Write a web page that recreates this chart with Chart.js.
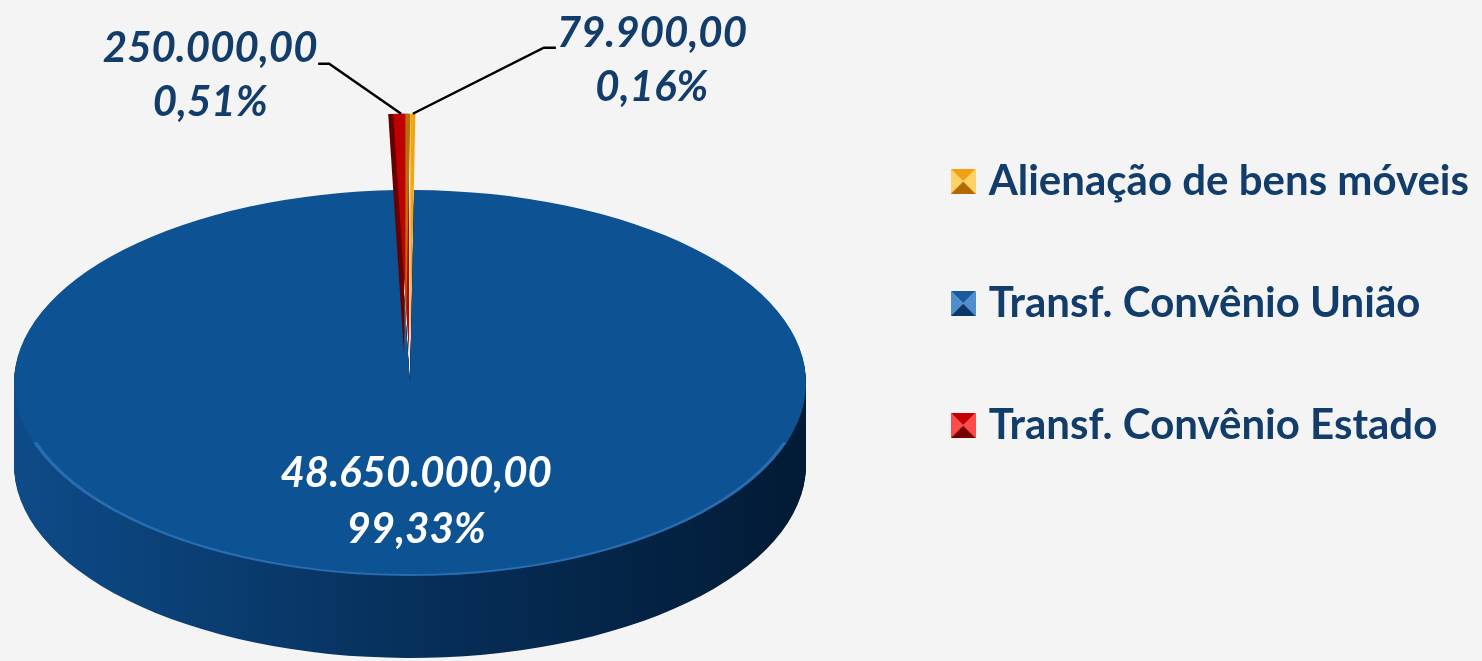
<!DOCTYPE html>
<html>
<head>
<meta charset="utf-8">
<script src="https://cdn.jsdelivr.net/npm/chart.js@4.4.1/dist/chart.umd.min.js"></script>
<style>
  html, body { margin: 0; padding: 0; background: #f4f4f4; }
  #wrap { position: relative; width: 1482px; height: 661px; }
</style>
</head>
<body>
<div id="wrap"><canvas id="receitas-chart"></canvas></div>
<script>
// data
const categories = ["Alienação de bens móveis", "Transf. Convênio União", "Transf. Convênio Estado"];
const amounts = [79900, 48650000, 250000];

// styling
const sliceColors = ["#f2a413", "#0d5293", "#c00000"];
const faceShadows = ["#b87000", null, "#640000"];
const iconColors = [
  ["#ffd166", "#f0a010", "#b06a00"],
  ["#4f8fd0", "#1a5a9c", "#0b3868"],
  ["#ff4a4a", "#c40000", "#7a0000"],
];
const exploded = [true, false, true];

const View = {
  center: { x: 410, y: 383 },
  radiusX: 396,
  radiusY: 193,
  depth: 82,
  lift: 28,       // how far (screen px) exploded slices move out
  stretch: 1.25,  // exploded slices drawn a bit longer, as in the 3D view
  navy: "#123d6b",
  font: "Lato, 'Open Sans', sans-serif",
};

// leader lines / label placement (pixels from the slice tip)
const LabelLayout = [
  { elbow: [131, -66], tail: 12, text: [108, -14] },
  null,
  { elbow: [-72, -50], tail: -11, text: [-119, -15] },
];

const total = amounts.reduce((a, b) => a + b, 0);

const fmtMoney = (v) => {
  const [int, dec] = v.toFixed(2).split(".");
  return int.replace(/\B(?=(\d{3})+(?!\d))/g, ".") + "," + dec;
};
const fmtPct = (f) => (f * 100).toFixed(2).replace(".", ",") + "%";

// small bevelled square for the legend
const bevelIcon = ([light, base, dark]) => {
  const s = 25, m = s / 2;
  const c = document.createElement("canvas");
  c.width = s;
  c.height = s;
  const g = c.getContext("2d");
  const tri = (pts, color) => {
    g.beginPath();
    g.moveTo(pts[0][0], pts[0][1]);
    g.lineTo(pts[1][0], pts[1][1]);
    g.lineTo(pts[2][0], pts[2][1]);
    g.closePath();
    g.fillStyle = color;
    g.fill();
  };
  tri([[0, 0], [s, 0], [m, m]], base);
  tri([[0, 0], [0, s], [m, m]], light);
  tri([[s, 0], [s, s], [m, m]], light);
  tri([[0, s], [s, s], [m, m]], dark);
  return c;
};
const icons = iconColors.map(bevelIcon);

const scales = (el) => ({ kx: View.radiusX / el.outerRadius, ky: View.radiusY / el.outerRadius });

const project = (ctx, el, dy) => {
  const { kx, ky } = scales(el);
  ctx.translate(View.center.x, View.center.y + dy);
  ctx.scale(kx, ky);
  ctx.translate(-el.x, -el.y);
};

// move an exploded slice outwards (in chart units) and stretch it
const explodeTransform = (ctx, el) => {
  const { ky } = scales(el);
  const mid = (el.startAngle + el.endAngle) / 2;
  const d = View.lift / ky;
  ctx.translate(Math.cos(mid) * d, Math.sin(mid) * d);
  ctx.translate(el.x, el.y);
  ctx.scale(View.stretch, View.stretch);
  ctx.translate(-el.x, -el.y);
};

const pie3d = {
  id: "pie3d",
  beforeDatasetsDraw(chart) {
    const ctx = chart.ctx;
    const big = chart.getDatasetMeta(0).data[1];
    const r = big.outerRadius;
    // side wall of the big slice
    for (let t = View.depth; t > 0; t--) {
      ctx.save();
      project(ctx, big, t);
      const grad = ctx.createLinearGradient(big.x - r, 0, big.x + r, 0);
      grad.addColorStop(0, "#0e4b88");
      grad.addColorStop(0.55, "#062d57");
      grad.addColorStop(1, "#021b35");
      ctx.fillStyle = grad;
      ctx.beginPath();
      ctx.moveTo(big.x, big.y);
      ctx.arc(big.x, big.y, r, big.startAngle, big.endAngle);
      ctx.closePath();
      ctx.fill();
      ctx.restore();
    }
    ctx.save();
    project(ctx, big, 0);
  },
  beforeDatasetDraw(chart, args) {
    const ctx = chart.ctx;
    const arcs = args.meta.data;
    [1, 2, 0].forEach((i) => {
      const el = arcs[i];
      ctx.save();
      if (exploded[i]) {
        explodeTransform(ctx, el);
        if (faceShadows[i]) {
          // the dark cut face seen on the left of the slice
          const { kx } = scales(el);
          ctx.save();
          ctx.translate(-4 / kx, 0);
          ctx.beginPath();
          ctx.moveTo(el.x, el.y);
          ctx.arc(el.x, el.y, el.outerRadius, el.startAngle, el.endAngle);
          ctx.closePath();
          ctx.fillStyle = faceShadows[i];
          ctx.fill();
          ctx.restore();
        }
      }
      el.draw(ctx);
      ctx.restore();
    });
    return false;
  },
  afterDatasetsDraw(chart) {
    const ctx = chart.ctx;
    const big = chart.getDatasetMeta(0).data[1];
    // soft highlight on the front rim of the top face
    ctx.beginPath();
    ctx.arc(big.x, big.y, big.outerRadius - 1.5, 0.1 * Math.PI, 0.9 * Math.PI);
    ctx.strokeStyle = "rgba(70, 135, 205, 0.5)";
    ctx.lineWidth = 3;
    ctx.stroke();
    ctx.restore();
  },
  afterDraw(chart) {
    const ctx = chart.ctx;
    const arcs = chart.getDatasetMeta(0).data;
    const ref = arcs[1];
    const { kx, ky } = scales(ref);
    const toScreen = (px, py) => ({
      x: View.center.x + (px - ref.x) * kx,
      y: View.center.y + (py - ref.y) * ky,
    });
    ctx.save();
    ctx.font = `italic bold 42px ${View.font}`;
    ctx.textBaseline = "middle";
    ctx.textAlign = "center";
    arcs.forEach((el, i) => {
      const lines = [fmtMoney(amounts[i]), fmtPct(amounts[i] / total)];
      const lay = LabelLayout[i];
      if (lay) {
        const mid = (el.startAngle + el.endAngle) / 2;
        const out = View.lift / ky + el.outerRadius * View.stretch;
        const tip = toScreen(el.x + Math.cos(mid) * out, el.y + Math.sin(mid) * out);
        const elbow = { x: tip.x + lay.elbow[0], y: tip.y + lay.elbow[1] };
        ctx.beginPath();
        ctx.moveTo(tip.x, tip.y);
        ctx.lineTo(elbow.x, elbow.y);
        ctx.lineTo(elbow.x + lay.tail, elbow.y);
        ctx.strokeStyle = "#000";
        ctx.lineWidth = 2.5;
        ctx.stroke();
        ctx.fillStyle = View.navy;
        const tx = elbow.x + lay.text[0];
        const ty = elbow.y + lay.text[1];
        ctx.fillText(lines[0], tx, ty);
        ctx.fillText(lines[1], tx, ty + 54);
      } else {
        const p = el.tooltipPosition();
        const s = toScreen(p.x, p.y);
        ctx.fillStyle = "#ffffff";
        ctx.fillText(lines[0], s.x + 4, s.y - 6);
        ctx.fillText(lines[1], s.x + 4, s.y + 50);
      }
    });
    ctx.restore();
  },
};

const canvas = document.getElementById("receitas-chart");
const defaultLabels = Chart.overrides.pie.plugins.legend.labels.generateLabels;

new Chart(canvas, {
  type: "pie",
  data: {
    labels: categories,
    datasets: [
      {
        data: amounts,
        backgroundColor: sliceColors,
        borderWidth: 0,
        hoverOffset: 0,
        clip: false,
      },
    ],
  },
  options: {
    responsive: true,
    maintainAspectRatio: false,
    animation: false,
    events: [],
    layout: { padding: { bottom: 54, right: 3 } },
    plugins: {
      tooltip: { enabled: false },
      legend: {
        position: "right",
        align: "center",
        labels: {
          usePointStyle: true,
          pointStyleWidth: 9,
          boxHeight: 25,
          padding: 80,
          color: View.navy,
          font: { family: View.font, size: 42, weight: "bold" },
          generateLabels: (chart) =>
            defaultLabels(chart).map((item, i) => ({ ...item, pointStyle: icons[i] })),
        },
      },
    },
  },
  plugins: [pie3d],
});
</script>
</body>
</html>
